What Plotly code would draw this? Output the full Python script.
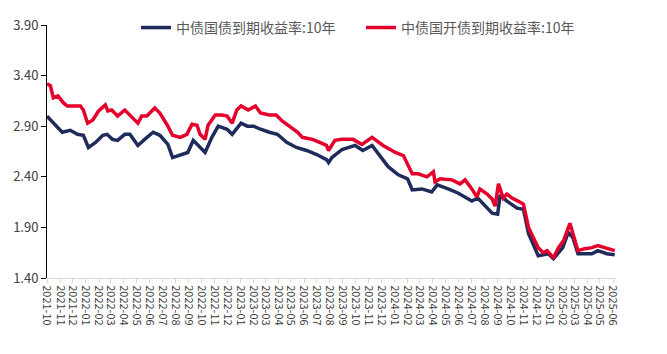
import plotly.graph_objects as go

# 中债国债到期收益率:10年
gov_dates = ["2021-10-01","2021-10-16","2021-10-25","2021-11-06","2021-11-25","2021-12-12",
 "2021-12-26","2022-01-07","2022-01-24","2022-02-10","2022-02-20","2022-03-05","2022-03-17",
 "2022-04-03","2022-04-15","2022-05-04","2022-05-20","2022-06-09","2022-06-25","2022-07-14",
 "2022-07-25","2022-08-16","2022-08-30","2022-09-12","2022-09-28","2022-10-10","2022-10-26",
 "2022-11-10","2022-12-01","2022-12-13","2023-01-03","2023-01-18","2023-02-02","2023-02-18",
 "2023-03-11","2023-03-30","2023-04-21","2023-05-14","2023-06-07","2023-07-01","2023-07-24",
 "2023-07-29","2023-08-06","2023-08-30","2023-09-30","2023-10-18","2023-11-09","2023-12-02",
 "2023-12-17","2024-01-10","2024-02-01","2024-02-12","2024-03-06","2024-03-29","2024-04-11",
 "2024-05-07","2024-05-30","2024-07-02","2024-07-16","2024-08-19","2024-09-01","2024-09-07",
 "2024-09-23","2024-10-17","2024-11-01","2024-11-13","2024-11-24","2024-12-06","2024-12-30",
 "2025-01-11","2025-02-02","2025-02-15","2025-02-26","2025-03-10","2025-04-12","2025-04-26",
 "2025-05-17","2025-06-05"]
gov_vals = [3.00,2.93,2.90,2.84,2.86,2.82,
 2.81,2.69,2.74,2.81,2.82,2.77,2.76,
 2.82,2.82,2.71,2.77,2.84,2.81,2.72,
 2.59,2.62,2.64,2.76,2.69,2.64,2.79,
 2.90,2.87,2.82,2.93,2.90,2.90,2.87,
 2.84,2.82,2.74,2.69,2.66,2.62,2.57,
 2.54,2.59,2.67,2.71,2.66,2.71,2.59,
 2.50,2.42,2.38,2.27,2.28,2.25,2.32,
 2.28,2.24,2.16,2.19,2.04,2.03,2.22,
 2.16,2.09,2.08,1.84,1.74,1.62,1.64,
 1.59,1.70,1.85,1.80,1.64,1.64,1.67,
 1.64,1.63]

# 中债国开债到期收益率:10年
cdb_dates = ["2021-10-01","2021-10-09","2021-10-16","2021-10-27","2021-11-09","2021-11-18",
 "2021-12-02","2021-12-19","2021-12-26","2022-01-05","2022-01-17","2022-01-31","2022-02-16",
 "2022-02-22","2022-03-03","2022-03-17","2022-04-03","2022-04-15","2022-05-04","2022-05-13",
 "2022-05-25","2022-06-13","2022-06-25","2022-07-14","2022-07-25","2022-08-12","2022-08-28",
 "2022-09-09","2022-09-21","2022-09-28","2022-10-10","2022-10-17","2022-10-26","2022-11-03",
 "2022-11-19","2022-12-01","2022-12-13","2022-12-24","2023-01-03","2023-01-20","2023-02-06",
 "2023-02-18","2023-03-11","2023-03-27","2023-04-11","2023-04-28","2023-05-17","2023-05-28",
 "2023-06-21","2023-07-08","2023-07-24","2023-07-29","2023-08-13","2023-08-30","2023-09-25",
 "2023-10-16","2023-11-09","2023-12-05","2024-01-03","2024-01-22","2024-02-03","2024-02-12",
 "2024-02-26","2024-03-18","2024-04-02","2024-04-06","2024-04-18","2024-05-16","2024-06-04",
 "2024-06-16","2024-07-02","2024-07-14","2024-07-21","2024-08-07","2024-08-19","2024-08-26",
 "2024-09-03","2024-09-14","2024-09-23","2024-10-05","2024-10-19","2024-11-01","2024-11-13",
 "2024-11-24","2024-12-06","2024-12-18","2024-12-27","2025-01-11","2025-01-23","2025-02-04",
 "2025-02-19","2025-02-26","2025-03-10","2025-03-26","2025-04-12","2025-04-26","2025-05-19",
 "2025-06-05"]
cdb_vals = [3.32,3.30,3.18,3.20,3.13,3.10,
 3.10,3.10,3.06,2.93,2.96,3.05,3.11,
 3.05,3.06,3.00,3.06,3.01,2.93,3.00,
 3.00,3.08,3.03,2.90,2.81,2.79,2.82,
 2.92,2.91,2.82,2.77,2.91,2.96,3.01,
 3.01,3.00,2.93,3.06,3.10,3.06,3.10,
 3.03,3.01,3.01,2.95,2.90,2.84,2.79,
 2.77,2.74,2.71,2.66,2.76,2.77,2.77,
 2.72,2.79,2.71,2.64,2.61,2.50,2.43,
 2.43,2.40,2.45,2.35,2.38,2.37,2.33,
 2.37,2.28,2.20,2.28,2.23,2.18,2.11,
 2.33,2.19,2.23,2.19,2.16,2.13,1.90,
 1.80,1.70,1.65,1.67,1.60,1.70,1.77,
 1.94,1.84,1.67,1.69,1.70,1.72,1.69,
 1.67]

y_ticks = [1.40, 1.90, 2.40, 2.90, 3.40, 3.90]
x_range = ["2021-10-01", "2025-06-08"]

NAVY = "#1E2B5B"
RED = "#E5002B"
FONT = "Noto Sans CJK SC"

fig = go.Figure()
fig.add_trace(go.Scatter(x=gov_dates, y=gov_vals, mode="lines", name="中债国债到期收益率:10年",
                         line=dict(color=NAVY, width=3.5), legend="legend"))
fig.add_trace(go.Scatter(x=cdb_dates, y=cdb_vals, mode="lines", name="中债国开债到期收益率:10年",
                         line=dict(color=RED, width=3.5), legend="legend2"))

legend_common = dict(orientation="h", xanchor="left", yanchor="middle",
                     font=dict(family=FONT, size=14, color="#595959"),
                     bgcolor="rgba(0,0,0,0)", itemwidth=30, tracegroupgap=0)
fig.update_layout(
    width=667, height=354,
    margin=dict(l=47, r=51, t=20, b=76),
    paper_bgcolor="white", plot_bgcolor="white",
    font=dict(family=FONT, color="#404040"),
    showlegend=True,
    legend=dict(x=(136 - 47) / 569, y=1.0 - (23 - 20) / 258, **legend_common),
    legend2=dict(x=(361 - 47) / 569, y=1.0 - (23 - 20) / 258, **legend_common),
    xaxis=dict(type="date", range=x_range, dtick="M1", tick0="2021-10-01", tickformat="%Y-%m",
               tickangle=90, showgrid=False, showline=True, linecolor="#D9D9D9", linewidth=1,
               ticks="outside", ticklen=4, tickcolor="#D9D9D9",
               tickfont=dict(family=FONT, size=11, color="#404040"), zeroline=False),
    yaxis=dict(range=[1.40, 3.90], tickvals=y_ticks, ticktext=[f"{v:.2f}" for v in y_ticks],
               showgrid=False, showline=True, linecolor="black", linewidth=1,
               ticks="outside", ticklen=5, tickcolor="black",
               tickfont=dict(family=FONT, size=13, color="#404040"), zeroline=False),
)
fig.write_html("out.html")
